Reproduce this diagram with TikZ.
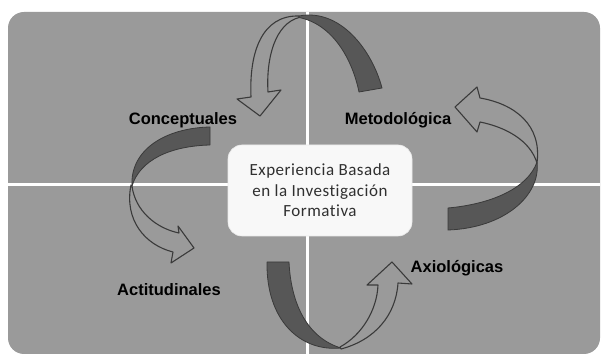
\documentclass[tikz,border=0pt]{standalone}
\usepackage{fontspec}
\setmainfont{Liberation Sans}
\newfontfamily\calibfont[Ligatures={NoCommon}, LetterSpace=3]{Carlito}
\definecolor{panelgray}{HTML}{9A9A9A}
\definecolor{ribbon}{HTML}{575757}
\definecolor{edgecol}{HTML}{3A3A3A}
\definecolor{boxfill}{HTML}{F8F8F8}
\definecolor{boxtext}{HTML}{303030}
\begin{document}
\begin{tikzpicture}[x=1pt,y=-1pt,
  darkrib/.style={fill=ribbon, draw=edgecol, line width=0.8pt, line join=round},
  openarrow/.style={fill=panelgray, draw=edgecol, line width=1.1pt, line join=round},
  divider/.style={draw=white, line width=3pt},
  lbl/.style={font=\bfseries\fontsize{16.5}{19}\selectfont, text=black, inner sep=0pt},
  centerbox/.style={fill=boxfill, draw=black!8, line width=0.6pt, rounded corners=14pt,
    minimum width=184pt, minimum height=91pt, align=center, text=boxtext,
    font=\calibfont\fontsize{17}{20.5}\selectfont}]
\useasboundingbox (0,0) rectangle (603,355);
% panel
\fill[panelgray, rounded corners=16pt] (8,12) rectangle (600,354);
% dividers
\coordinate (vtop) at (307,12);
\coordinate (vbot) at (307,355);
\coordinate (hl) at (8,184.5);
\coordinate (hr) at (600,184.5);
\draw[divider] (vtop) -- (vbot);
\draw[divider] (hl) -- (hr);
% center box
\node[centerbox] (center) at (320,190.5) {Experiencia Basada\\en la Investigación\\Formativa};
% top arrow
\filldraw[darkrib] (299,16) .. controls (340,8) and (372,50) .. (382,88) -- (359,92) .. controls (352,58) and (332,24) .. (299,17.5) -- cycle;
\filldraw[openarrow] (299,16) .. controls (262,15) and (249,52) .. (251,97) -- (237,99) -- (260,116) -- (281,90) -- (268,92) .. controls (266,58) and (275,24) .. (299,17.5) -- cycle;
% left arrow
\filldraw[darkrib] (210,127) -- (210,145) .. controls (170,146) and (140,160) .. (132,186) .. controls (130,150) and (165,128) .. (210,127) -- cycle;
\filldraw[openarrow] (131,185) .. controls (124,220) and (145,245) .. (173,252) -- (171,263) -- (194,248) -- (178,226) -- (179,233) .. controls (155,228) and (135,210) .. (132,186) -- cycle;
% right arrow
\filldraw[darkrib] (448,208) -- (448,230) .. controls (505,228) and (541,195) .. (537,162) .. controls (528,188) and (492,204) .. (448,208) -- cycle;
\filldraw[openarrow] (537,163) .. controls (542,125) and (515,104) .. (480,98) -- (477,87) -- (455,107) -- (477,132) -- (480,122) .. controls (505,127) and (530,140) .. (537,163) -- cycle;
% bottom arrow
\filldraw[darkrib] (267,262) -- (289,262) .. controls (291,305) and (308,338) .. (341,348) .. controls (300,352) and (266,320) .. (267,262) -- cycle;
\filldraw[openarrow] (341,349) .. controls (375,340) and (396,315) .. (398,283) -- (412,284) -- (392,262) -- (367,285) -- (378,285) .. controls (377,310) and (362,335) .. (340,347) -- cycle;
% labels
\node[lbl] (conc) at (183,120) {Conceptuales};
\node[lbl] (meto) at (398,120) {Metodológica};
\node[lbl] (acti) at (169,290) {Actitudinales};
\node[lbl] (axio) at (457,268) {Axiológicas};
\end{tikzpicture}
\end{document}
